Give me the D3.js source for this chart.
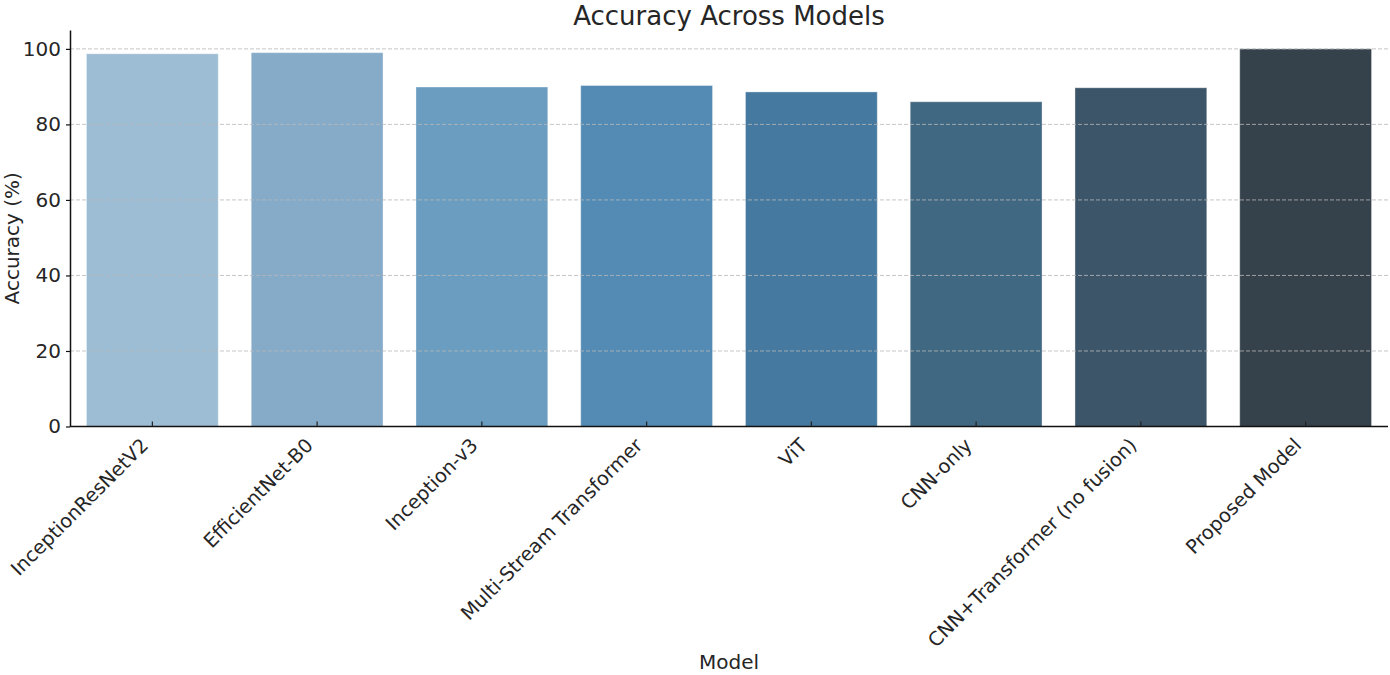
<!DOCTYPE html>
<html>
<head>
<meta charset="utf-8">
<script src="https://cdn.jsdelivr.net/npm/d3@7"></script>
<style>
  html, body { margin: 0; padding: 0; background: #fff; }
  svg { display: block; font-family: "DejaVu Sans", sans-serif; }
</style>
</head>
<body>
<svg id="chart" width="1390" height="675"></svg>
<script>
const models = ["InceptionResNetV2", "EfficientNet-B0", "Inception-v3", "Multi-Stream Transformer", "ViT", "CNN-only", "CNN+Transformer (no fusion)", "Proposed Model"];
const accuracy = [98.7, 99.0, 89.9, 90.3, 88.6, 86.0, 89.7, 100.0];
const barColors = ["#9cbdd4", "#86abc9", "#6a9dc0", "#548bb4", "#45799f", "#416883", "#3c5569", "#36424b"];
const yTicks = [0, 20, 40, 60, 80, 100];
const title = "Accuracy Across Models";
const xTitle = "Model";
const yTitle = "Accuracy (%)";

const svg = d3.select("#chart");
const mLeft = 70, mRight = 1388, mTop = 30, mBottom = 426.5;

const x = d3.scaleBand().domain(models).range([mLeft, mRight]).paddingInner(0.2).paddingOuter(0.1);
const y = d3.scaleLinear().domain([0, 105]).range([mBottom, mTop]);

const textColor = "#262626";

// bars
svg.append("g").selectAll("rect").data(models).join("rect")
  .attr("x", d => x(d))
  .attr("width", x.bandwidth())
  .attr("y", (d, i) => y(accuracy[i]))
  .attr("height", (d, i) => y(0) - y(accuracy[i]))
  .attr("fill", (d, i) => barColors[i])
  .attr("stroke", "#ffffff")
  .attr("stroke-opacity", 0.35)
  .attr("stroke-width", 1);

// grid (drawn above bars)
svg.append("g").selectAll("line").data(yTicks.filter(t => t > 0)).join("line")
  .attr("x1", mLeft).attr("x2", 1390)
  .attr("y1", d => y(d)).attr("y2", d => y(d))
  .attr("stroke", "#b8b8b8")
  .attr("stroke-opacity", 0.8)
  .attr("stroke-width", 1)
  .attr("stroke-dasharray", "4,2");

// y axis
const yAxis = d3.axisLeft(y).tickValues(yTicks).tickSize(4).tickPadding(5).tickSizeOuter(0);
const gy = svg.append("g").attr("transform", `translate(${mLeft},0)`).call(yAxis);
gy.select(".domain").attr("stroke", "#111").attr("stroke-width", 1.5);
gy.selectAll(".tick line").attr("stroke", "#111").attr("stroke-width", 1.2);
gy.selectAll(".tick text").attr("font-size", 20).attr("fill", textColor)
  .attr("font-family", "DejaVu Sans");

// x axis
const xAxis = d3.axisBottom(x).tickSize(-5).tickSizeOuter(0).tickFormat("");
const gx = svg.append("g").attr("transform", `translate(0,${mBottom})`).call(xAxis);
gx.select(".domain").attr("stroke", "#111").attr("stroke-width", 1.5)
  .attr("d", `M${mLeft},0H${mRight}`);
gx.selectAll(".tick line").attr("stroke", "#222").attr("stroke-width", 1.2);

// rotated x labels
svg.append("g").selectAll("text").data(models).join("text")
  .attr("transform", d => `translate(${x(d) + x.bandwidth() / 2 - 3},${mBottom + 20}) rotate(-45)`)
  .attr("text-anchor", "end")
  .attr("font-size", 19.4)
  .attr("fill", textColor)
  .text(d => d);

// titles
svg.append("text")
  .attr("x", (mLeft + mRight) / 2).attr("y", 24.5)
  .attr("text-anchor", "middle")
  .attr("font-size", 26)
  .attr("fill", textColor)
  .text(title);

svg.append("text")
  .attr("x", (mLeft + mRight) / 2).attr("y", 669)
  .attr("text-anchor", "middle")
  .attr("font-size", 20)
  .attr("fill", textColor)
  .text(xTitle);

svg.append("text")
  .attr("transform", `translate(19,${(mTop + mBottom) / 2 + 10}) rotate(-90)`)
  .attr("text-anchor", "middle")
  .attr("font-size", 20)
  .attr("fill", textColor)
  .text(yTitle);
</script>
</body>
</html>
